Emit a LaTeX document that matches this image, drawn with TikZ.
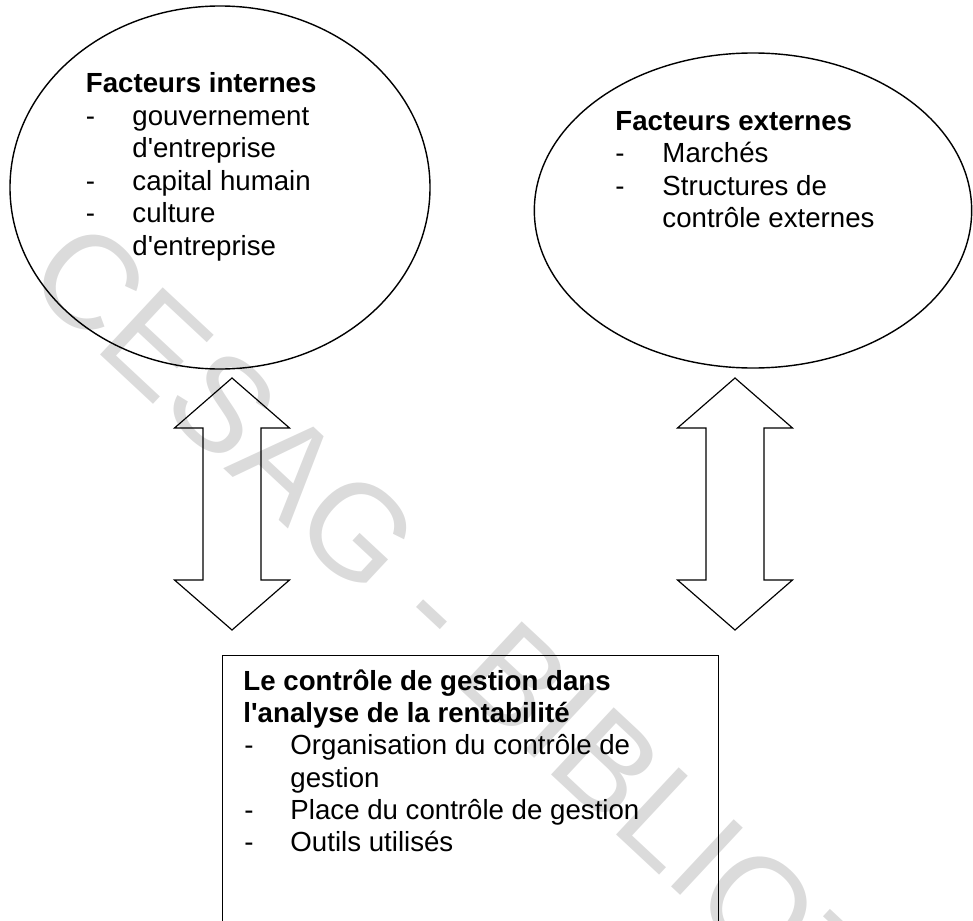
\documentclass[tikz,border=0pt]{standalone}
\usepackage{fontspec}
\setmainfont{Liberation Sans}
\usetikzlibrary{shapes.geometric}
\definecolor{wmgray}{gray}{0.86}
\newcommand{\apos}{\textquotesingle}
\begin{document}
\begin{tikzpicture}[x=0.015cm,y=-0.015cm,
  thinline/.style={draw=black, line width=0.5pt},
  shapeline/.style={draw=black, line width=0.6pt},
  txt/.style={anchor=base west, inner sep=0pt, font=\fontsize{11.8pt}{13.8pt}\selectfont},
  hd/.style={txt, font=\fontsize{11.8pt}{13.8pt}\selectfont\bfseries},
  wmark/.style={anchor=base west, inner sep=0pt, text=wmgray, font=\fontsize{57pt}{60pt}\selectfont},
  pics/blockarrow/.style={code={
    \draw[thinline, line join=miter]
      (0,0) -- (57.5,50) -- (29,50) -- (29,202) -- (57.5,202) -- (0,252)
      -- (-57.5,202) -- (-29,202) -- (-29,50) -- (-57.5,50) -- cycle;
  }}]
\useasboundingbox (0,0) rectangle (973,921);

% library stamp in the background
\node[wmark, rotate=-43] (stamp) at (22,281) {CESAG - BIBLIOTHEQUE};

% the two groups of factors
\node[ellipse, shapeline, minimum width=6.3cm, minimum height=5.445cm] (internes) at (220,187.5) {};
\node[ellipse, shapeline, minimum width=6.56cm, minimum height=4.725cm] (externes) at (753,210.5) {};

% management control box (runs past the lower edge)
\node[rectangle, thinline, anchor=north west, minimum width=7.44cm, minimum height=4.6cm] (controle) at (222,655) {};

% two-way block arrows between the factors and the box
\pic at (232,378) {blockarrow};
\pic at (735,378) {blockarrow};

% internal factors
\node[hd]  (i0) at (85.5,92.5) {Facteurs internes};
\node[txt] (i1d) at (85.5,125) {-};
\node[txt] (i1) at (132,125) {gouvernement};
\node[txt] (i2) at (132,157.5) {d\apos entreprise};
\node[txt] (i3d) at (85.5,190) {-};
\node[txt] (i3) at (132,190) {capital humain};
\node[txt] (i4d) at (85.5,222.5) {-};
\node[txt] (i4) at (132,222.5) {culture};
\node[txt] (i5) at (132,255) {d\apos entreprise};

% external factors
\node[hd]  (e0) at (615,130) {Facteurs externes};
\node[txt] (e1d) at (615,162.5) {-};
\node[txt] (e1) at (662,162.5) {Marchés};
\node[txt] (e2d) at (615,195) {-};
\node[txt] (e2) at (662,195) {Structures de};
\node[txt] (e3) at (662,227.5) {contrôle externes};

% management control content
\node[hd]  (c0) at (243,690.5) {Le contrôle de gestion dans};
\node[hd]  (c1) at (243,722.7) {l\apos analyse de la rentabilité};
\node[txt] (c2d) at (244,754.9) {-};
\node[txt] (c2) at (290,754.9) {Organisation du contrôle de};
\node[txt] (c3) at (290,787.1) {gestion};
\node[txt] (c4d) at (244,819.3) {-};
\node[txt] (c4) at (290,819.3) {Place du contrôle de gestion};
\node[txt] (c5d) at (244,851.5) {-};
\node[txt] (c5) at (290,851.5) {Outils utilisés};
\end{tikzpicture}
\end{document}
